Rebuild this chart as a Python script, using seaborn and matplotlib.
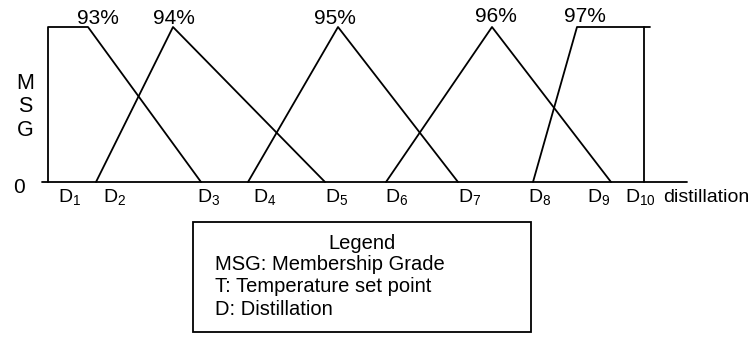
import matplotlib
matplotlib.use("Agg")
import matplotlib.pyplot as plt
from matplotlib.patches import Rectangle
import numpy as np
import pandas as pd
import seaborn as sns

# Distillation breakpoints (x) and membership grades (mu) for each fuzzy set
set_names = ["93%", "94%", "95%", "96%", "97%"]
set93_x = [48, 48, 88, 201]
set93_mu = [0, 1, 1, 0]
set94_x = [96, 173, 325]
set94_mu = [0, 1, 0]
set95_x = [248, 338, 458]
set95_mu = [0, 1, 0]
set96_x = [386, 492, 611]
set96_mu = [0, 1, 0]
set97_x = [533, 577, 650]
set97_mu = [0, 1, 1]
edge97_x = [644, 644]
edge97_mu = [0, 1]

# Horizontal distillation axis
axis_x = [42, 687]
axis_mu = [0, 0]

d_labels = ["1", "2", "3", "4", "5", "6", "7", "8", "9", "10"]
legend_lines = ["MSG: Membership Grade", "T: Temperature set point", "D: Distillation"]

sns.set_theme(style="white")
plt.rcParams["font.family"] = ["Liberation Sans", "DejaVu Sans"]
plt.rcParams["text.color"] = "black"
plt.rcParams["mathtext.fontset"] = "custom"
plt.rcParams["mathtext.rm"] = "Liberation Sans"
plt.rcParams["mathtext.it"] = "Liberation Sans:italic"

segments = [
    ("93%", set93_x, set93_mu),
    ("94%", set94_x, set94_mu),
    ("95%", set95_x, set95_mu),
    ("96%", set96_x, set96_mu),
    ("97%", set97_x, set97_mu),
    ("97% edge", edge97_x, edge97_mu),
    ("axis", axis_x, axis_mu),
]
rows = []
for name, xs, ms in segments:
    for order, (x, m) in enumerate(zip(xs, ms)):
        rows.append({"unit": name, "order": order, "x": x, "mu": m})
df = pd.DataFrame(rows)

W, H = 755, 343
fig = plt.figure(figsize=(W / 100, H / 100), dpi=100)
ax = fig.add_axes([0, 0, 1, 1])

# pixel rows of grade 0 and grade 1
y0_px, y1_px = 182.0, 27.0
scale = y0_px - y1_px
ax.set_xlim(0, W)
ax.set_ylim(-(H - y0_px) / scale, y0_px / scale)
ax.set_axis_off()


def ypx(p):
    return (y0_px - p) / scale


sns.lineplot(data=df, x="x", y="mu", units="unit", estimator=None, sort=False,
             color="black", linewidth=1.3, ax=ax, legend=False)

# set labels above the peaks / shoulders
peak_x = [set93_x[2], set94_x[1], set95_x[1], set96_x[1], set97_x[1]]
pct_offset = [10, 1, -3, 4, 8]
pct_base = [23.5, 23.5, 24, 22, 22]
for name, px, off, b in zip(set_names, peak_x, pct_offset, pct_base):
    ax.text(px + off, ypx(b), name, ha="center", va="baseline", fontsize=15)

# distillation point labels
d_break = [48, 96, 201, 248, 325, 386, 458, 533, 611, 644]
d_off = [10, 7, -4, 5, 0, -1, 0, -5, -24, -19]
for lab, bx, off in zip(d_labels, d_break, d_off):
    ax.text(bx + off, ypx(202), "D$_{" + lab + "}$", ha="left", va="baseline",
            fontsize=14)
ax.text(663, ypx(202), "distillation", ha="left", va="baseline", fontsize=14)

# y-axis annotations
ax.text(19, ypx(193), "0", ha="center", va="baseline", fontsize=15)
for ch, b in zip("MSG", [89, 112, 136]):
    ax.text(25, ypx(b), ch, ha="center", va="baseline", fontsize=15.5)

# legend box
box = Rectangle((193 / W, 1 - 332 / H), (531 - 193) / W, (332 - 222) / H,
                transform=fig.transFigure, fill=False, edgecolor="black",
                linewidth=1.3)
fig.patches.append(box)
fig.text(362 / W, 1 - 249 / H, "Legend", ha="center", va="baseline", fontsize=14.5)
for line, b in zip(legend_lines, [270, 292.5, 315]):
    fig.text(215 / W, 1 - b / H, line, ha="left", va="baseline", fontsize=14.5)

fig.savefig("out.png", dpi=100, facecolor="white")
